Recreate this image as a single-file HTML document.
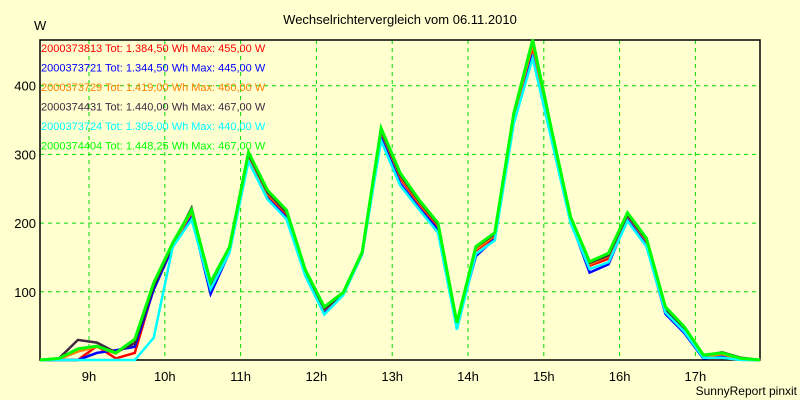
<!DOCTYPE html>
<html><head><meta charset="utf-8"><style>
html,body{margin:0;padding:0;background:#FFFFD0;}
svg{display:block;font-family:"Liberation Sans",sans-serif;}
</style></head><body>
<svg width="800" height="400" viewBox="0 0 800 400">
<rect x="0" y="0" width="800" height="400" fill="#FFFFD0"/>
<text x="400" y="24" text-anchor="middle" font-size="13">Wechselrichtervergleich vom 06.11.2010</text>
<text x="34" y="30" font-size="13">W</text>
<g id="grid"></g>
<g id="axes"></g>
<g id="series"></g>
<g id="legend"></g>
<text x="797" y="395" text-anchor="end" font-size="12">SunnyReport pinxit</text>
</svg>
<script>
const yTicks = [100, 200, 300, 400];
const xTickLabels = ["9h","10h","11h","12h","13h","14h","15h","16h","17h"];
const xTickHours = [9,10,11,12,13,14,15,16,17];
const seriesNames = ["2000373813","2000373721","2000373729","2000374431","2000373724","2000374404"];
const seriesTotals = ["1.384,50","1.344,50","1.419,00","1.440,00","1.305,00","1.448,25"];
const seriesMax = ["455,00","445,00","460,00","467,00","440,00","467,00"];
const seriesColors = ["#FF0000","#0000FF","#FF8000","#402840","#00FFFF","#00FF00"];
const red = [0,0,0,21,3,11,105,166,214,107,160,296,240,212,128,73,96,155,330,265,228,195,52,160,180,352,455,328,205,138,148,208,172,74,45,5,8,2,0];
const blue = [0,0,0,11,15,20,103,165,210,97,158,293,236,208,125,70,96,155,325,258,222,190,50,152,177,348,445,323,203,128,140,206,168,68,40,3,6,1,0];
const orange = [0,2,13,20,10,30,110,168,216,108,162,298,243,215,130,74,97,156,333,268,230,197,53,162,182,355,460,330,207,140,152,211,174,76,47,6,9,2,0];
const dark = [0,3,30,26,12,25,108,168,222,110,163,300,245,216,128,75,97,157,335,270,232,198,54,165,184,358,467,333,207,142,153,212,176,75,46,7,12,4,0];
const cyan = [0,0,0,0,0,0,33,165,205,104,157,290,235,206,123,67,95,155,320,255,220,186,45,155,175,345,440,320,200,133,143,203,166,70,42,4,4,0,0];
const green = [0,3,17,21,11,31,113,171,219,114,165,303,248,219,132,78,99,158,338,273,234,200,55,166,186,360,467,335,209,144,156,215,178,78,49,8,11,3,0];
const startHour = 8.354; const stepHours = 0.25;

const NS = "http://www.w3.org/2000/svg";
const L = 40, R = 760, T = 40, B = 360;
function xH(h){ return 89 + (h - 9) * 75.8; }
function xI(i){ return xH(startHour + i * stepHours); }
function yV(v){ return Math.min(B, 360.5 - v * 0.687); }
function mk(tag, attrs, parent){ const e = document.createElementNS(NS, tag); for (const k in attrs) e.setAttribute(k, attrs[k]); parent.appendChild(e); return e; }

const grid = document.getElementById("grid");
yTicks.forEach(v => {
  const l = mk("line", {x1:L, x2:R, y1:yV(v), y2:yV(v), stroke:"#00DD00", "stroke-dasharray":"4,4", "stroke-width":1}, grid);
  
  
  const t = mk("text", {x:36, y:yV(v)+5, "text-anchor":"end", "font-size":13}, grid);
  t.textContent = v;
  
  
});
xTickHours.forEach((h, i) => {
  const l = mk("line", {x1:xH(h), x2:xH(h), y1:T, y2:B, stroke:"#00DD00", "stroke-dasharray":"4,4", "stroke-width":1}, grid);
  
  
  const t = mk("text", {x:xH(h), y:381, "text-anchor":"middle", "font-size":13}, grid);
  t.textContent = xTickLabels[i];
  
  
});
const axes = document.getElementById("axes");
const frame = mk("rect", {x:L, y:T, width:R-L, height:B-T, fill:"none", stroke:"#000", "stroke-width":1.5}, axes);



const seriesData = [red, blue, orange, dark, cyan, green];
const sg = document.getElementById("series");
seriesData.forEach((arr, s) => {
  const pts = arr.map((v, i) => xI(i).toFixed(1) + "," + yV(v).toFixed(1));
  if (s === 2) pts.push(R + "," + yV(0));
  const p = mk("polyline", {points: pts.join(" "), fill:"none", stroke:seriesColors[s], "stroke-width": s === 5 ? 3 : 2.5, "stroke-linejoin":"miter"}, sg);
  
  
});

const lg = document.getElementById("legend");
seriesNames.forEach((n, s) => {
  const t = mk("text", {x:41, y:52 + s * 19.5, "font-size":11, fill:seriesColors[s]}, lg);
  t.textContent = n + " Tot: " + seriesTotals[s] + " Wh Max: " + seriesMax[s] + " W";
  
  
});
</script>
</body></html>
